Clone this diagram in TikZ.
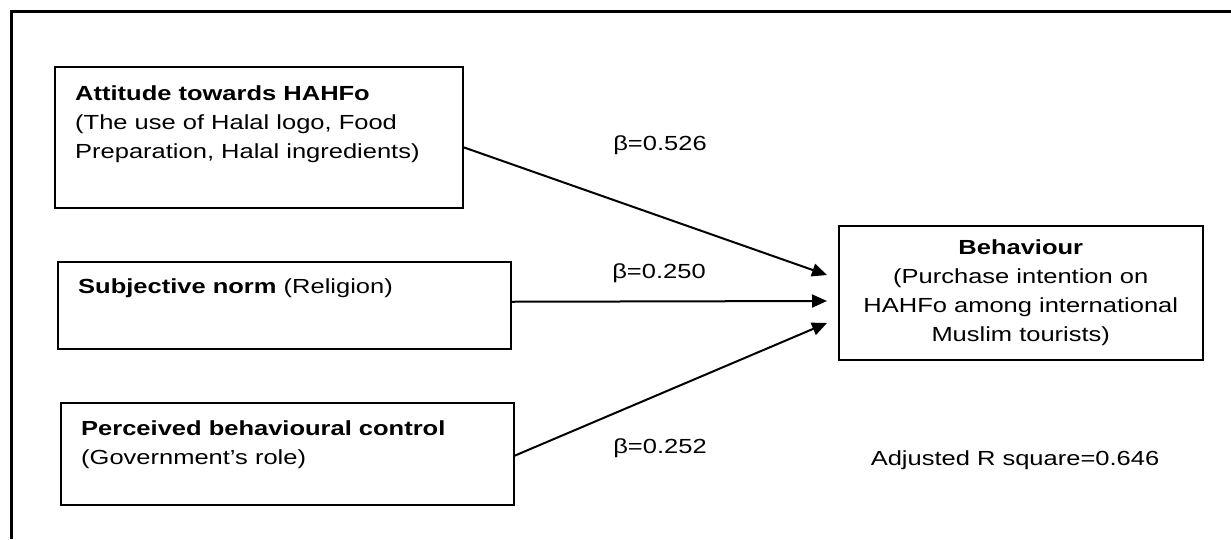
\documentclass[tikz,border=0pt]{standalone}
\usepackage{fontspec}
\setmainfont{Liberation Sans}[FakeStretch=1.25]
\usetikzlibrary{positioning,arrows.meta}

\tikzset{
  box/.style={draw, line width=1.5pt, inner sep=0pt, anchor=north west},
  txt/.style={inner sep=0pt, align=left, font=\fontsize{20.4}{29}\selectfont},
  link/.style={line width=2pt, -{Triangle[length=15pt,width=13pt]}},
  coef/.style={inner sep=0pt, anchor=base, font=\fontsize{20.4}{29}\selectfont}
}

\begin{document}
\begin{tikzpicture}[x=1pt,y=-1pt]
\useasboundingbox (0,0) rectangle (1231,539);
\draw[line width=3pt] (11.5,539) -- (11.5,11.5) -- (1231,11.5);

\node[box, minimum width=408pt, minimum height=141pt] (att) at (54,66) {};
\node[box, minimum width=453pt, minimum height=87pt] (sub) at (57,261) {};
\node[box, minimum width=453pt, minimum height=102pt] (pbc) at (60,402) {};
\node[box, minimum width=364pt, minimum height=134pt] (beh) at (838,225) {};

\node[txt, below right=19.5pt and 21pt of att.north west] (attT) {\textbf{Attitude towards HAHFo}\\(The use of Halal logo, Food\\Preparation, Halal ingredients)};
\node[txt, below right=18pt and 21pt of sub.north west] (subT) {\textbf{Subjective norm} (Religion)};
\node[txt, below right=19pt and 21pt of pbc.north west] (pbcT) {\textbf{Perceived behavioural control}\\(Government’s role)};
\node[txt, align=center, below=14.5pt of beh.north] (behT) {\textbf{Behaviour}\\(Purchase intention on\\HAHFo among international\\Muslim tourists)};

\coordinate [] (in1) at (827,275);
\coordinate [] (in2) at (827,301);
\coordinate [] (in3) at (827,323);
\draw[link] ([yshift=-10pt]att.east) -- (in1);
\draw[link] ([yshift=3.5pt]sub.east) -- (in2);
\draw[link] ([yshift=-2pt]pbc.east) -- (in3);

\node[coef] (b1) at (660,150) {β=0.526};
\node[coef] (b2) at (659,278) {β=0.250};
\node[coef] (b3) at (660,453) {β=0.252};
\node[coef] (rsq) at (1015,465) {Adjusted R square=0.646};
\end{tikzpicture}
\end{document}
